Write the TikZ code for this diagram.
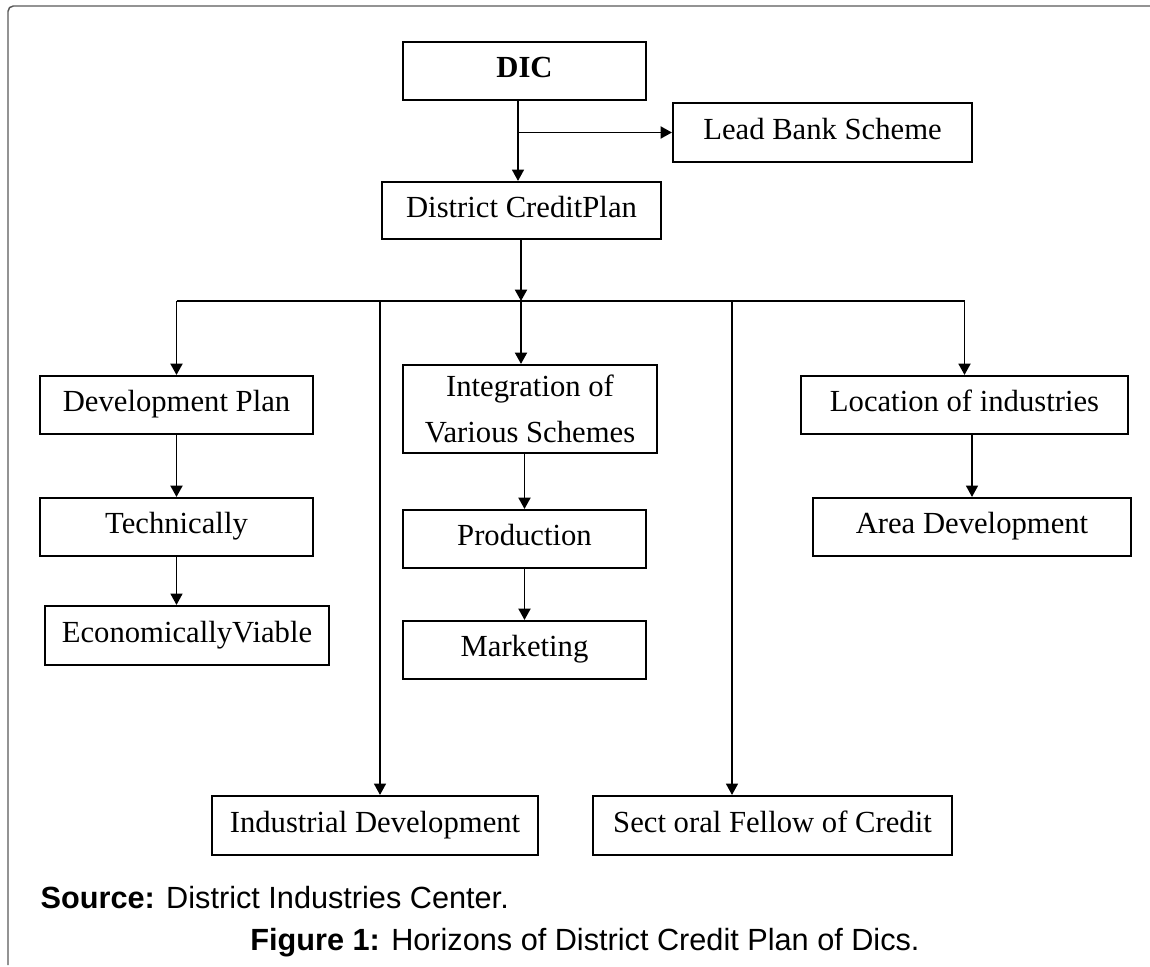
\documentclass[tikz,border=0pt]{standalone}
\usepackage{fontspec}
\setmainfont{Liberation Serif}
\newfontfamily\capfont{Liberation Sans}
\usetikzlibrary{arrows.meta}

\begin{document}
\begin{tikzpicture}[x=0.75pt,y=-0.75pt,
  box/.style={draw,line width=1.6pt,inner sep=0pt,minimum height=43.5pt,
    text height=15pt,text depth=5pt,font=\fontsize{23}{35}\selectfont},
  link/.style={line width=1.4pt,-{Triangle[width=9pt,length=8.5pt]}},
  thin link/.style={link,line width=1.1pt},
  rail/.style={line width=1.3pt}]
  \useasboundingbox (0,0) rectangle (1150,967);
  \draw[black!65,line width=1.1pt,rounded corners=4pt] (8,965) -- (8,6) -- (1150,6);
  \node[box,minimum width=182.25pt] (dic) at (524.5,71) {\textbf{DIC}};
  \node[box,minimum width=224.25pt,minimum height=44.25pt] (lbs) at (822.5,132.5) {Lead Bank Scheme};
  \node[box,minimum width=209.25pt,minimum height=42.75pt] (dcp) at (521.5,210.5) {District CreditPlan};
  \node[box,minimum width=204.75pt] (devplan) at (176.5,405) {Development Plan};
  \node[box,minimum width=204.75pt] (tech) at (176.5,527) {Technically};
  \node[box,minimum width=213pt,minimum height=44.25pt] (econ) at (187,635.5) {EconomicallyViable};
  \node[box,minimum width=190.5pt,minimum height=66pt,align=center,text height=,text depth=] (integ) at (530,409)
    {Integration of\\Various Schemes};
  \node[box,minimum width=182.25pt] (prod) at (524.5,539) {Production};
  \node[box,minimum width=182.25pt] (mkt) at (524.5,650) {Marketing};
  \node[box,minimum width=245.25pt] (loc) at (964.5,405) {Location of industries};
  \node[box,minimum width=238.5pt] (area) at (972,527) {Area Development};
  \node[box,minimum width=244.5pt,minimum height=44.25pt] (indev) at (375,825.5) {Industrial Development};
  \node[box,minimum width=269.25pt,minimum height=44.25pt] (sect) at (772.5,825.5) {Sect oral Fellow of Credit};
  \coordinate (trunk) at (518,100);
  \coordinate (hub) at (521,301);
  \coordinate (indrop) at (380,301);
  \coordinate (sectdrop) at (732,301);
  \draw[thin link] (trunk) -- (trunk |- dcp.north);
  \draw[link] (trunk |- lbs.west) -- (lbs.west);
  \draw[link] (hub |- dcp.south) -- (hub);
  \draw[rail] (devplan.north |- hub) -- (loc.north |- hub);
  \draw[link] (devplan.north |- hub) -- (devplan.north);
  \draw[link] (hub) -- (hub |- integ.north);
  \draw[link] (loc.north |- hub) -- (loc.north);
  \draw[thin link] (indrop) -- (indrop |- indev.north);
  \draw[thin link] (sectdrop) -- (sectdrop |- sect.north);
  \draw[link] (devplan.south) -- (tech.north);
  \draw[thin link] (tech.south) -- (tech.south |- econ.north);
  \draw[link] (prod.north |- integ.south) -- (prod.north);
  \draw[link] (prod.south) -- (mkt.north);
  \draw[thin link] (area.north |- loc.south) -- (area.north);
  \node[anchor=west,font=\capfont\fontsize{23}{27}\selectfont] (src) at (36,898)
    {\textbf{Source:} District Industries Center.};
  \node[font=\capfont\fontsize{23}{27}\selectfont] (cap) at (585,943)
    {\textbf{Figure 1:} Horizons of District Credit Plan of Dics.};
\end{tikzpicture}
\end{document}
